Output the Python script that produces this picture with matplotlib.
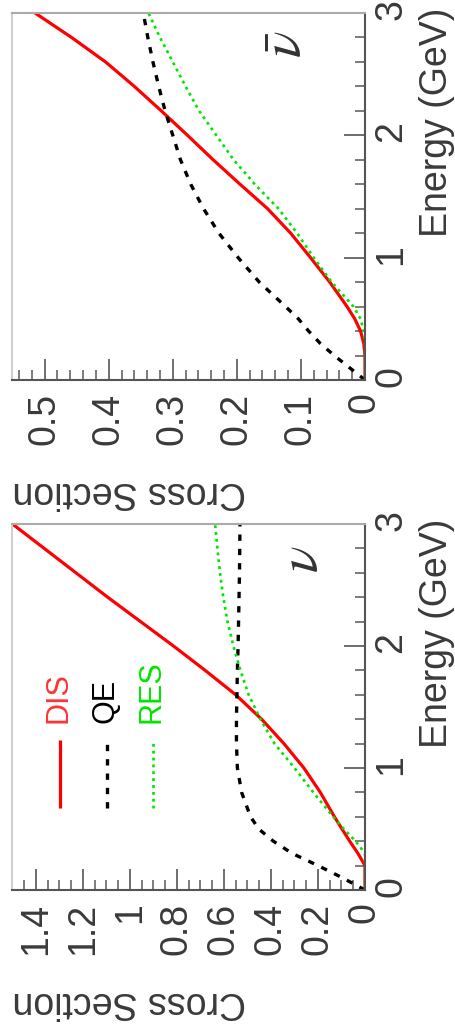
import matplotlib
matplotlib.use("Agg")
import matplotlib.pyplot as plt
from matplotlib.ticker import MultipleLocator, FormatStrFormatter

plt.rcParams['font.family'] = ['Liberation Sans', 'DejaVu Sans']
plt.rcParams['mathtext.fontset'] = 'stix'

# Energy grid (GeV) shared by all curves
energy = [0.0, 0.1, 0.2, 0.3, 0.4, 0.5, 0.6, 0.8, 1.0, 1.2, 1.4, 1.6, 1.8, 2.0,
          2.2, 2.4, 2.6, 2.8, 3.0]

# Neutrino cross sections
nu_dis = [0.0, 0.0, 0.0, 0.03, 0.065, 0.098, 0.13, 0.19, 0.26, 0.345, 0.44,
          0.55, 0.68, 0.815, 0.955, 1.095, 1.23, 1.365, 1.50]
nu_qe = [0.0, 0.096, 0.20, 0.31, 0.39, 0.452, 0.487, 0.525, 0.543, 0.547, 0.547,
         0.545, 0.543, 0.540, 0.538, 0.536, 0.534, 0.533, 0.532]
nu_res = [0.0, 0.0, 0.0, 0.0, 0.04, 0.09, 0.135, 0.22, 0.30, 0.385, 0.445,
          0.495, 0.53, 0.56, 0.585, 0.603, 0.617, 0.628, 0.638]

# Antineutrino cross sections
nubar_dis = [0.0, 0.0, 0.0, 0.002, 0.007, 0.016, 0.028, 0.055, 0.085, 0.116,
             0.152, 0.195, 0.237, 0.277, 0.318, 0.36, 0.405, 0.458, 0.515]
nubar_qe = [0.0, 0.024, 0.048, 0.07, 0.088, 0.104, 0.124, 0.165, 0.198, 0.228,
            0.252, 0.272, 0.288, 0.300, 0.312, 0.322, 0.331, 0.339, 0.346]
nubar_res = [0.0, 0.0, 0.0, 0.0, 0.002, 0.007, 0.018, 0.052, 0.080, 0.106,
             0.135, 0.172, 0.205, 0.232, 0.259, 0.280, 0.300, 0.320, 0.338]

channel_names = ['DIS', 'QE', 'RES']
channel_colors = ['#ff0000', '#000000', '#00e600']

W, H = 456, 1034
fig = plt.figure(figsize=(W / 100, H / 100), dpi=100)


def px_axes(x0, y0, x1, y1):
    return fig.add_axes([x0 / W, 1 - y1 / H, (x1 - x0) / W, (y1 - y0) / H])


STYLES = {
    'DIS': dict(color=channel_colors[0], lw=2.3, ls='-'),
    'QE': dict(color=channel_colors[1], lw=2.4, ls=(0, (1.9, 2.4))),
    'RES': dict(color=channel_colors[2], lw=1.9, ls=(0, (1.1, 1.5))),
}

FS = 27
TXT = '#3a3a3a'


def setup(ax, xmax, major, minor, fmt):
    ax.set_xlim(xmax, 0)
    ax.set_ylim(0, 3)
    ax.xaxis.set_major_locator(MultipleLocator(major))
    ax.xaxis.set_minor_locator(MultipleLocator(minor))
    ax.xaxis.set_major_formatter(FormatStrFormatter(fmt))
    ax.yaxis.set_major_locator(MultipleLocator(1))
    ax.yaxis.set_minor_locator(MultipleLocator(0.2))
    ax.yaxis.tick_right()
    ax.tick_params(axis='x', which='both', direction='in', bottom=True, top=False,
                   labelrotation=90, labelsize=FS, colors=TXT, pad=9)
    ax.tick_params(axis='y', which='both', direction='in', right=True, left=False,
                   labelrotation=90, labelsize=FS, colors=TXT, pad=6)
    ax.tick_params(which='major', length=15, width=1.2, color='#555555')
    ax.tick_params(which='minor', length=7.5, width=1.2, color='#666666')
    for side, col in [('right', '#555555'), ('bottom', '#555555'),
                      ('top', '#aaaaaa'), ('left', '#d0d0d0')]:
        ax.spines[side].set_color(col)
        ax.spines[side].set_linewidth(1.5)

    ax.set_xlabel('Cross Section', fontsize=FS, color=TXT)
    ax.xaxis.label.set_rotation(180)
    ax.xaxis.label.set_rotation_mode('anchor')
    ax.xaxis.label.set_ha('right')
    ax.xaxis.label.set_va('baseline')

    ax.yaxis.set_label_position('right')
    ax.set_ylabel('Energy (GeV)', fontsize=FS, color=TXT)
    ax.yaxis.label.set_rotation(90)
    ax.yaxis.label.set_rotation_mode('anchor')
    ax.yaxis.label.set_ha('right')
    ax.yaxis.label.set_va('baseline')


def label_coords(ax, x0, y0, x1, y1):
    w, h = x1 - x0, y1 - y0
    ax.xaxis.set_label_coords((13 - x0) / w, -102 / h)
    ax.yaxis.set_label_coords((447 - x0) / w, (y1 - (y0 - 5)) / h)


# Antineutrino panel (top)
box_top = (12, 13, 365, 380)
ax1 = px_axes(*box_top)
setup(ax1, 0.551, 0.1, 0.02, '%g')
for name, vals in zip(channel_names, [nubar_dis, nubar_qe, nubar_res]):
    ax1.plot(vals, energy, **STYLES[name], solid_capstyle='butt',
             dash_capstyle='butt')
label_coords(ax1, *box_top)
ax1.text(0.78, 0.915, r'$\bar{\nu}$', transform=ax1.transAxes, rotation=90,
         ha='center', va='center', fontsize=40, color='#333333')

# Neutrino panel (bottom)
box_bot = (12, 524, 365, 890)
ax2 = px_axes(*box_bot)
setup(ax2, 1.502, 0.2, 0.05, '%g')
for name, vals in zip(channel_names, [nu_dis, nu_qe, nu_res]):
    ax2.plot(vals, energy, **STYLES[name], solid_capstyle='butt',
             dash_capstyle='butt')
label_coords(ax2, *box_bot)
ax2.text(0.824, 0.905, r'$\nu$', transform=ax2.transAxes, rotation=90,
         ha='center', va='center', fontsize=40, color='#333333')

# Legend entries drawn upright along the panel
for i, name in enumerate(channel_names):
    xf = 0.136 + i * 0.132
    ax2.plot([xf, xf], [0.224, 0.41], transform=ax2.transAxes, **STYLES[name],
             solid_capstyle='butt', dash_capstyle='butt')
    ax2.text(xf - 0.004, 0.456, name, transform=ax2.transAxes, rotation=90,
             rotation_mode='anchor', ha='left', va='center', fontsize=22,
             color=channel_colors[i], alpha=0.8 if i == 0 else 1.0)

fig.savefig('out.png', dpi=100)
